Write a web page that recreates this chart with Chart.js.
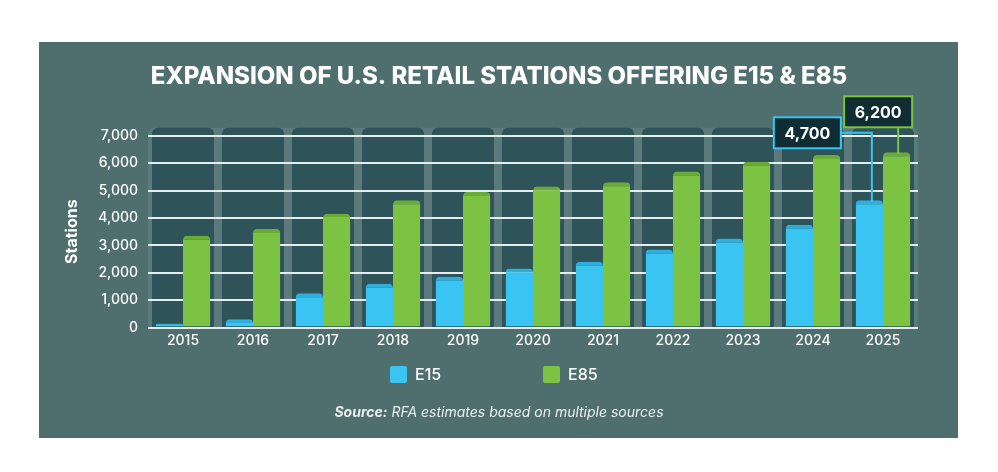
<!DOCTYPE html>
<html>
<head>
<meta charset="utf-8">
<script src="https://cdn.jsdelivr.net/npm/chart.js@4/dist/chart.umd.min.js"></script>
<style>
  html, body { margin: 0; padding: 0; background: #ffffff; }
  body { width: 998px; height: 472px; position: relative; overflow: hidden; }
  #panel { position: absolute; left: 39px; top: 42px; width: 919px; height: 396px; background: #4f6e6e; }
  #chart { position: absolute; left: 0; top: 0; }
  .legend { position: absolute; top: 365px; height: 18px; display: flex; align-items: center;
            font-family: Inter, "Open Sans", sans-serif; font-weight: 500; font-size: 16px; color: #ffffff; }
  .legend .sw { width: 17px; height: 17px; border-radius: 2px; margin-right: 8px; }
  #source { position: absolute; left: 0; width: 998px; top: 403px; text-align: center;
            font-family: Inter, "Open Sans", sans-serif; font-style: italic; font-size: 14px; color: #e9f0ef; }
  #source b { font-weight: 700; }
</style>
</head>
<body>
<div id="panel"></div>
<canvas id="chart" width="998" height="472"></canvas>
<div class="legend" style="left:390px"><div class="sw" style="background:#3ac4f1"></div><span id="lg0"></span></div>
<div class="legend" style="left:543px"><div class="sw" style="background:#7cc243"></div><span id="lg1"></span></div>
<div id="source"><b>Source:</b> RFA estimates based on multiple sources</div>
<script>
// ---- data ----
const years = ['2015','2016','2017','2018','2019','2020','2021','2022','2023','2024','2025'];
const seriesNames = ['E15', 'E85'];
const e15Stations = [150, 300, 1250, 1600, 1850, 2150, 2400, 2850, 3250, 3750, 4650];
const e85Stations = [3350, 3600, 4150, 4650, 4950, 5150, 5300, 5700, 6050, 6300, 6400];
const calloutLabels = ['4,700', '6,200'];
const yTickValues = [0, 1000, 2000, 3000, 4000, 5000, 6000, 7000];
const chartTitle = 'EXPANSION OF U.S. RETAIL STATIONS OFFERING E15 & E85';
const yAxisTitle = 'Stations';

document.getElementById('lg0').textContent = seriesNames[0];
document.getElementById('lg1').textContent = seriesNames[1];

const BLUE = '#3ac4f1', BLUE_CAP = '#2eaedb';
const GREEN = '#7cc243', GREEN_CAP = '#6aab36';
const FONT = 'Inter, "Open Sans", sans-serif';

const columnsPlugin = {
  id: 'columns',
  beforeDraw(chart) {
    const { ctx, chartArea, scales: { x, y } } = chart;
    const top = y.getPixelForValue(yTickValues[yTickValues.length - 1]) - 8;
    const bottom = y.getPixelForValue(0);
    const band = x.getPixelForValue(1) - x.getPixelForValue(0);
    ctx.save();
    ctx.fillStyle = '#5b7a7b';
    ctx.beginPath();
    ctx.roundRect(chartArea.left, top, chartArea.right - chartArea.left, bottom - top, [6, 6, 0, 0]);
    ctx.fill();
    ctx.fillStyle = '#2e5358';
    const w = band - 8;
    years.forEach((_, i) => {
      const cx = x.getPixelForValue(i);
      ctx.beginPath();
      ctx.roundRect(cx - w / 2, top, w, bottom - top, [6, 6, 0, 0]);
      ctx.fill();
    });
    ctx.restore();
  }
};

const calloutPlugin = {
  id: 'callouts',
  afterDatasetsDraw(chart) {
    const { ctx, chartArea } = chart;
    const last = years.length - 1;
    const b0 = chart.getDatasetMeta(0).data[last];
    const b1 = chart.getDatasetMeta(1).data[last];
    ctx.save();
    ctx.lineWidth = 2;
    // E15 callout
    const w0 = 67, h0 = 31;
    const r0 = b0.x - 28.5, t0 = chartArea.top - 18.5, l0 = r0 - w0;
    const ly0 = t0 + 15.5, lx0 = b0.x + 2.5;
    ctx.strokeStyle = BLUE;
    ctx.beginPath();
    ctx.moveTo(r0, ly0); ctx.lineTo(lx0, ly0); ctx.lineTo(lx0, b0.y + 2);
    ctx.stroke();
    ctx.fillStyle = '#0f2d33';
    ctx.fillRect(l0, t0, w0, h0);
    ctx.strokeRect(l0, t0, w0, h0);
    // E85 callout
    const w1 = 68, h1 = 31;
    const l1 = b1.x - 52.5, t1 = chartArea.top - 39.5;
    const lx1 = b1.x + 1.5;
    ctx.strokeStyle = GREEN;
    ctx.beginPath();
    ctx.moveTo(lx1, t1 + h1); ctx.lineTo(lx1, b1.y + 2);
    ctx.stroke();
    ctx.fillStyle = '#0f2d33';
    ctx.fillRect(l1, t1, w1, h1);
    ctx.strokeRect(l1, t1, w1, h1);
    // texts
    ctx.fillStyle = '#ffffff';
    ctx.font = '700 16px ' + FONT;
    ctx.textAlign = 'center';
    ctx.textBaseline = 'middle';
    ctx.fillText(calloutLabels[0], l0 + w0 / 2, t0 + h0 / 2 + 1);
    ctx.fillText(calloutLabels[1], l1 + w1 / 2, t1 + h1 / 2 + 1);
    ctx.restore();
  }
};

const barStyle = {
  borderWidth: { top: 4, left: 0, right: 0, bottom: 0 },
  borderRadius: { topLeft: 4, topRight: 4, bottomLeft: 0, bottomRight: 0 },
  borderSkipped: 'bottom',
  categoryPercentage: 0.78,
  barPercentage: 1.0
};

new Chart(document.getElementById('chart'), {
  type: 'bar',
  data: {
    labels: years,
    datasets: [
      Object.assign({ label: seriesNames[0], data: e15Stations, backgroundColor: BLUE, borderColor: BLUE_CAP }, barStyle),
      Object.assign({ label: seriesNames[1], data: e85Stations, backgroundColor: GREEN, borderColor: GREEN_CAP }, barStyle)
    ]
  },
  options: {
    responsive: false,
    animation: false,
    devicePixelRatio: 1,
    layout: { padding: { left: 40, right: 40, top: 0, bottom: 114.5 } },
    plugins: {
      legend: { display: false },
      tooltip: { enabled: false },
      title: {
        display: true,
        text: chartTitle,
        color: '#ffffff',
        font: { family: FONT, weight: '800', size: 24 },
        padding: { top: 62, bottom: 45 }
      }
    },
    scales: {
      x: {
        grid: { display: false, drawTicks: false },
        border: { display: false },
        ticks: { color: '#ffffff', padding: 5, font: { family: FONT, weight: '500', size: 14 } },
        afterFit(scale) { scale.height = 30; }
      },
      y: {
        min: 0,
        max: 7000,
        afterBuildTicks(scale) { scale.ticks = yTickValues.map(v => ({ value: v })); },
        grid: { color: '#e4eded', lineWidth: 2, drawTicks: false },
        border: { display: false },
        ticks: {
          color: '#ffffff',
          padding: 10,
          font: { family: FONT, weight: '500', size: 14 },
          callback: v => v.toLocaleString('en-US')
        },
        title: {
          display: true,
          text: yAxisTitle,
          color: '#ffffff',
          font: { family: FONT, weight: '700', size: 16 },
          padding: { top: 22.4, bottom: 0 }
        },
        afterFit(scale) { scale.width = 108; }
      },
      yRight: {
        axis: 'y',
        position: 'right',
        min: 0,
        max: 7000,
        grid: { display: false, drawTicks: false },
        border: { display: false },
        ticks: { display: false },
        afterFit(scale) { scale.width = 40; }
      }
    }
  },
  plugins: [columnsPlugin, calloutPlugin]
});
</script>
</body>
</html>
